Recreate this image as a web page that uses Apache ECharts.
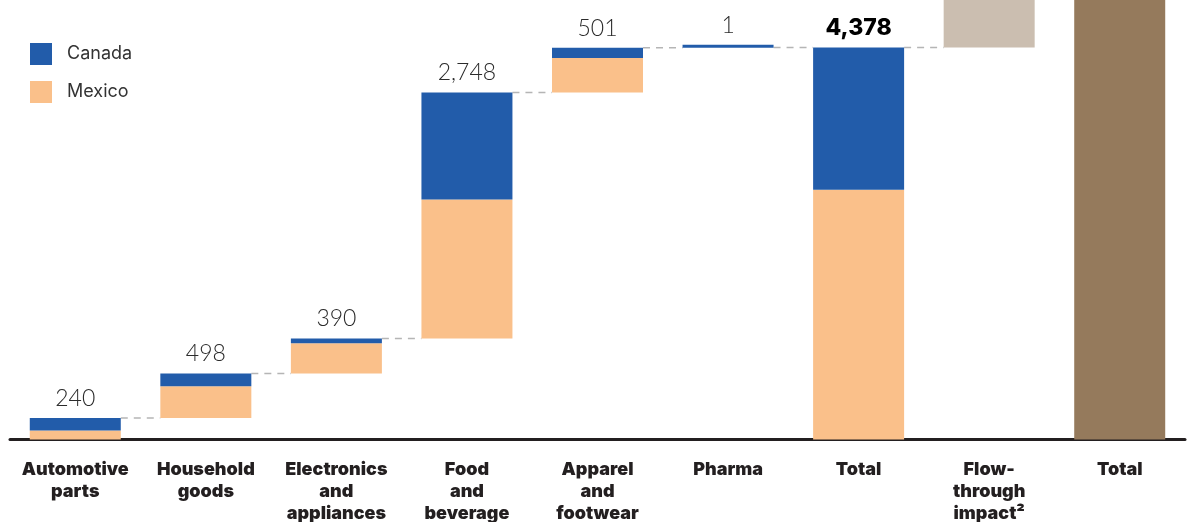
<!DOCTYPE html>
<html>
<head>
<meta charset="utf-8">
<script src="https://cdn.jsdelivr.net/npm/echarts@6/dist/echarts.min.js"></script>
<style>
html,body{margin:0;padding:0;background:#fff;}
#chart{width:1188px;height:522px;}
</style>
</head>
<body>
<div id="chart"></div>
<script>
// ---- data ----
const categories = ['Automotive\nparts', 'Household\ngoods', 'Electronics\nand\nappliances', 'Food\nand\nbeverage', 'Apparel\nand\nfootwear', 'Pharma', 'Total', 'Flow-\nthrough\nimpact²', 'Total'];
const canada = [139, 142, 53, 1194, 115, 1];      // per-category Canada contribution
const mexico = [101, 356, 337, 1554, 386, 0];      // per-category Mexico contribution
const columnTotals = [240, 498, 390, 2748, 501, 1, 4378];
const totalCanada = 1588;
const totalMexico = 2790;
const flowThrough = 1200;   // bar extends beyond the visible top
const grandTotal = 5578;    // bar extends beyond the visible top

// ---- derived series ----
const n = categories.length;
const baseData = new Array(n).fill('-');
const mexData = new Array(n).fill('-');
const canData = new Array(n).fill('-');
const flowData = new Array(n).fill('-');
const grandData = new Array(n).fill('-');
let cum = 0;
const tops = [];
for (let i = 0; i < canada.length; i++) {
  baseData[i] = cum;
  mexData[i] = mexico[i];
  canData[i] = canada[i];
  cum += columnTotals[i];
  tops.push(cum);
}
baseData[6] = 0; mexData[6] = totalMexico; canData[6] = totalCanada;
tops.push(totalMexico + totalCanada);
baseData[7] = totalMexico + totalCanada; flowData[7] = flowThrough;
baseData[8] = 0; grandData[8] = grandTotal;

const connectorData = tops.map((v, i) => [i, v]);

const BAR_W = 91;
const fmt = v => v.toLocaleString('en-US');

const chart = echarts.init(document.getElementById('chart'));
chart.setOption({
  animation: false,
  grid: { left: 10, right: 3, top: 0, bottom: 82.5, containLabel: false, outerBoundsMode: 'none' },
  legend: {
    data: ['Canada', 'Mexico'],
    orient: 'vertical',
    left: 25, top: 38,
    itemWidth: 22, itemHeight: 22, itemGap: 16,
    icon: 'rect',
    selectedMode: false,
    textStyle: { fontSize: 18, color: '#333', fontFamily: 'Inter', padding: [3, 0, 0, 10] }
  },
  xAxis: {
    type: 'category',
    data: categories,
    axisTick: { show: false },
    axisLine: { lineStyle: { color: '#231f20', width: 3 } },
    axisLabel: {
      interval: 0, margin: 19,
      fontSize: 18, lineHeight: 22, fontWeight: 900,
      fontFamily: 'Inter', color: '#231f20', align: 'center'
    }
  },
  yAxis: { type: 'value', min: 0, max: 4910, show: false, splitLine: { show: false } },
  series: [
    { name: 'base', type: 'bar', stack: 'w', barWidth: BAR_W, data: baseData,
      itemStyle: { color: 'transparent' }, emphasis: { disabled: true }, silent: true },
    { name: 'Mexico', type: 'bar', stack: 'w', barWidth: BAR_W, data: mexData,
      itemStyle: { color: '#FAC08A' }, emphasis: { disabled: true } },
    { name: 'Canada', type: 'bar', stack: 'w', barWidth: BAR_W, data: canData, barMinHeight: 3,
      itemStyle: { color: '#225CAA' }, emphasis: { disabled: true },
      label: {
        show: true, position: 'top', distance: 8,
        formatter: p => p.dataIndex === 6 ? '{b|' + fmt(columnTotals[p.dataIndex]) + '}' : '{n|' + fmt(columnTotals[p.dataIndex]) + '}',
        rich: {
          n: { fontSize: 23, fontWeight: 300, fontFamily: 'Lato', color: '#2b2b2b' },
          b: { fontSize: 23, fontWeight: 800, fontFamily: 'Inter', color: '#000' }
        }
      } },
    { name: 'flow', type: 'bar', stack: 'w', barWidth: BAR_W, data: flowData,
      itemStyle: { color: '#CBBEB0' }, emphasis: { disabled: true } },
    { name: 'grand', type: 'bar', stack: 'w', barWidth: BAR_W, data: grandData,
      itemStyle: { color: '#957A5C' }, emphasis: { disabled: true } },
    { name: 'connectors', type: 'custom', data: connectorData, silent: true, z: 1,
      renderItem: (params, api) => {
        const i = api.value(0), v = api.value(1);
        const p = api.coord([i, v]);
        const q = api.coord([i + 1, v]);
        return {
          type: 'line',
          shape: { x1: p[0] + BAR_W / 2, y1: p[1], x2: q[0] - BAR_W / 2, y2: q[1] },
          style: { stroke: '#b5b5b5', lineWidth: 1.5, lineDash: [7, 6] }
        };
      } }
  ]
});
</script>
</body>
</html>
